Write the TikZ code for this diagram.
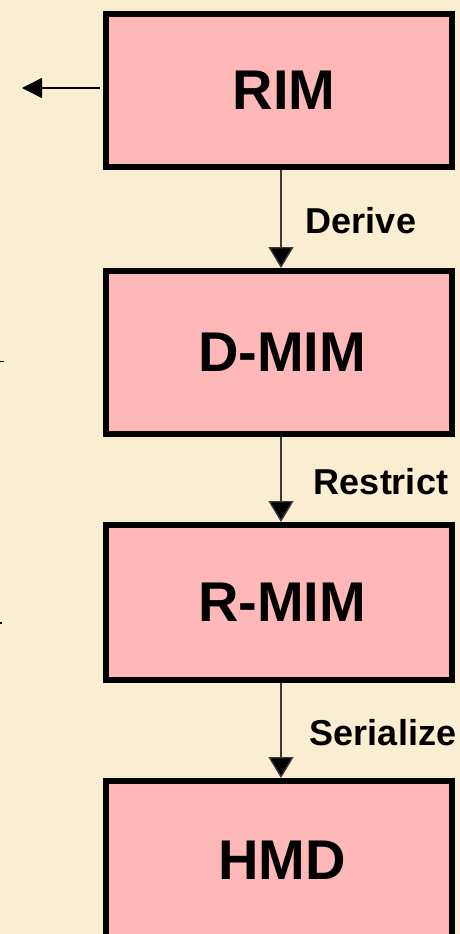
\documentclass[tikz,border=0pt]{standalone}
\usepackage{fontspec}
\setmainfont{Liberation Sans}
\usetikzlibrary{arrows.meta}
\definecolor{parch}{HTML}{F9EDD2}
\definecolor{boxpink}{HTML}{FFB8B8}
\definecolor{shaft}{HTML}{3A3A3A}
\begin{document}
\begin{tikzpicture}[x=1pt,y=-1pt,
  mbox/.style={draw=black,fill=boxpink,line width=6pt,inner sep=0pt,
    minimum width=346pt,font=\fontsize{56}{60}\selectfont\bfseries},
  lbl/.style={inner sep=0pt,font=\fontsize{36}{40}\selectfont\bfseries},
  arr/.style={draw=shaft,line width=1.4pt,-{Triangle[width=25pt,length=21pt,fill=black]}},
  larr/.style={draw=black,line width=1.4pt,-{Triangle[width=20pt,length=20pt,fill=black]}}]
\fill[parch] (0,0) rectangle (460,934);
\useasboundingbox (0,0) rectangle (460,934);
\node[mbox,minimum height=153pt] (rim)  at (279,90.5) {\hspace*{10pt}RIM};
\node[mbox,minimum height=163pt] (dmim) at (279,352.5) {\hspace*{6pt}D-MIM};
\node[mbox,minimum height=155pt] (rmim) at (279,602.5) {\hspace*{6pt}R-MIM};
\node[mbox,minimum height=158pt] (hmd)  at (279,860) {\hspace*{6pt}HMD};
\node[lbl] (lderive) at (361,221) {Derive};
\node[lbl] (lrestrict) at (381,482) {Restrict};
\node[lbl] (lserial) at (383,733) {Serialize};
\draw[arr] ([xshift=2pt]rim.south) -- ([xshift=2pt]dmim.north);
\draw[arr] ([xshift=2pt]dmim.south) -- ([xshift=2pt]rmim.north);
\draw[arr] ([xshift=2pt]rmim.south) -- ([xshift=2pt]hmd.north);
\coordinate (lt) at (22,88);
\draw[larr] ([xshift=-3pt]rim.west |- lt) -- (lt);
\draw[line width=1.5pt] (0,361.5) -- (4,361.5);
\draw[line width=1.2pt] (0,623) -- (1.5,623);
\end{tikzpicture}
\end{document}
